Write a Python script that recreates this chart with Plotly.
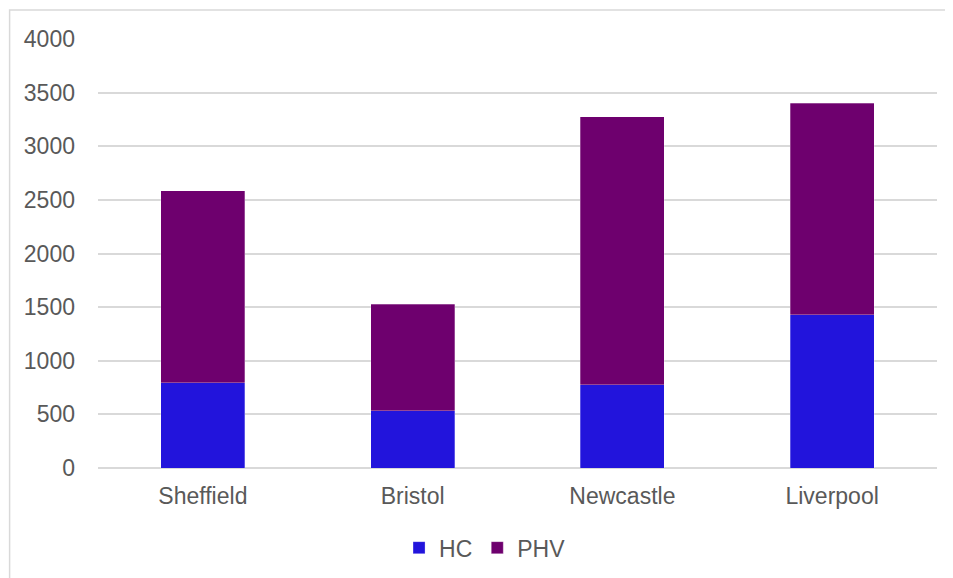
import plotly.graph_objects as go

cities = ["Sheffield", "Bristol", "Newcastle", "Liverpool"]
hc = [793, 534, 774, 1427]
phv = [1790, 995, 2499, 1976]
y_ticks = [0, 500, 1000, 1500, 2000, 2500, 3000, 3500, 4000]

OFF = 8  # default body margin of the page
W, H = 953 - OFF, 578 - OFF
# plot area in page pixels
PX0, PX1, PY0, PY1 = 97.5, 937.5, 39.3, 468.3
L, T = PX0 - OFF, PY0 - OFF
R, B = W - (PX1 - OFF), H - (PY1 - OFF)
pw, ph = PX1 - PX0, PY1 - PY0

def px(x):
    return (x - PX0) / pw

def py(y):
    return (PY1 - y) / ph

FONT = "Liberation Sans, Arial"
GREY = "#595959"

fig = go.Figure()
fig.add_bar(x=cities, y=hc, name="HC",
            marker=dict(color="#2214DC", line=dict(color="rgba(255,255,255,0.35)", width=0.8)))
fig.add_bar(x=cities, y=phv, name="PHV",
            marker=dict(color="#6E006E", line=dict(color="rgba(255,255,255,0.35)", width=0.8)))

fig.update_layout(
    width=W, height=H,
    barmode="stack", bargap=0.6,
    margin=dict(l=L, r=R, t=T, b=B, autoexpand=False),
    paper_bgcolor="white", plot_bgcolor="white",
    font=dict(family=FONT, size=23, color=GREY),
    showlegend=True,
    legend=dict(orientation="h", x=px(485), xanchor="center", y=py(548), yanchor="middle",
                font=dict(family=FONT, size=23, color=GREY), itemwidth=30, traceorder="normal",
                tracegroupgap=0),
    xaxis=dict(showgrid=False, showline=False, ticks="", ticklabelstandoff=12,
               tickfont=dict(family=FONT, size=23, color=GREY)),
    yaxis=dict(range=[0, 4000], tickvals=y_ticks, showgrid=True, gridcolor="#D9D9D9", gridwidth=1.5,
               zeroline=True, zerolinecolor="#D9D9D9", zerolinewidth=1.5, showline=False, ticks="",
               ticklabelstandoff=22, tickfont=dict(family=FONT, size=23, color=GREY)),
    shapes=[dict(type="rect", xref="paper", yref="paper", x0=px(9), x1=px(960), y0=py(600), y1=py(10.3),
                 line=dict(color="#D9D9D9", width=1.5), fillcolor="rgba(0,0,0,0)", layer="below")],
)

fig.write_html("out.html")
